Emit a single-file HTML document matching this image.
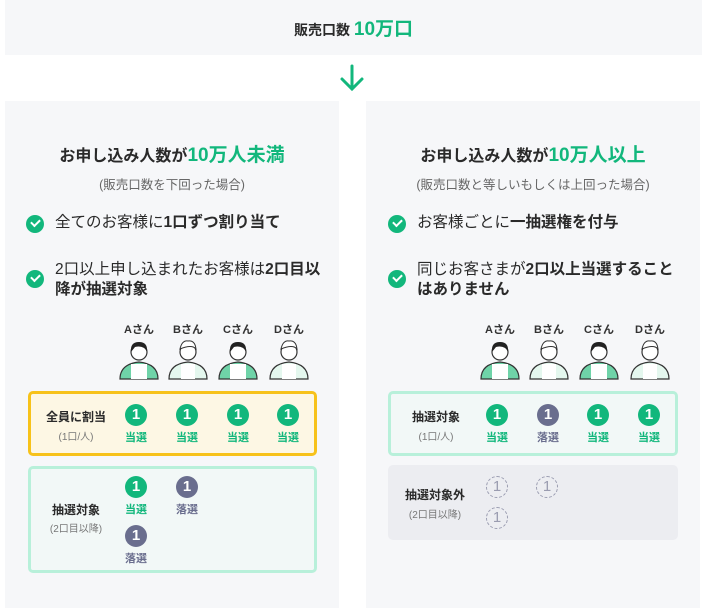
<!DOCTYPE html>
<html><head><meta charset="utf-8">
<style>
*{margin:0;padding:0;box-sizing:border-box}
body{width:707px;height:616px;background:#fff;position:relative;overflow:hidden;font-family:"Liberation Sans","Noto Sans CJK JP",sans-serif;color:#2a2a2a}
.a{position:absolute}
.g{color:#12b77c}
.panel{position:absolute;top:101px;height:507px;background:#f6f7f9}
.ttl{position:absolute;width:100%;text-align:center;font-weight:bold;font-size:16px}
.sub{position:absolute;width:100%;text-align:center;font-size:12.5px;color:#666}
.chk{position:absolute;width:18px;height:18px;border-radius:50%;background:#12b77c}
.chk:after{content:"";position:absolute;left:5px;top:4px;width:7px;height:4px;border-left:2.5px solid #fff;border-bottom:2.5px solid #fff;transform:rotate(-45deg)}
.it{position:absolute;font-size:15.5px;line-height:20px;white-space:nowrap}
.nm{position:absolute;width:50px;text-align:center;font-size:11px;font-weight:bold;color:#333}
.c{position:absolute;width:22px;height:22px;border-radius:50%;background:#12b77c;color:#fff;font-weight:bold;font-size:15px;text-align:center;line-height:22px}
.c.l{background:#6a6e8e}
.c.d{background:none;border:1.2px dashed #9a9cb0;color:#9a9cb0;font-weight:normal;line-height:20px}
.r{position:absolute;width:40px;text-align:center;font-size:11px;font-weight:bold;color:#12b77c}
.r.l{color:#6a6e8e}
.lb{position:absolute;width:96px;text-align:center;font-size:12px;font-weight:bold}
.ls{position:absolute;width:96px;text-align:center;font-size:10px;color:#777}
</style></head><body>
<div class="a" style="left:5px;top:0;width:697px;height:55px;background:#f6f7f9"></div>
<div class="a" style="left:0;top:14px;width:707px;text-align:center;font-weight:bold;font-size:14px">販売口数 <span class="g" style="font-size:19px">10万口</span></div>
<svg class="a" style="left:338px;top:64px" width="28" height="28"><path d="M14 2V25M4 15L14 25L24 15" stroke="#12b77c" stroke-width="3" fill="none" stroke-linecap="round"/></svg>

<div class="panel" style="left:5px;width:334px"></div>
<div class="panel" style="left:366px;width:334px"></div>

<div class="ttl" style="left:5px;width:334px;top:140px">お申し込み人数が<span class="g" style="font-size:19px">10万人未満</span></div>
<div class="sub" style="left:5px;width:334px;top:174px">(販売口数を下回った場合)</div>
<div class="chk" style="left:26px;top:215px"></div>
<div class="it" style="left:55px;top:213px">全てのお客様に<b>1口ずつ割り当て</b></div>
<div class="chk" style="left:26px;top:270px"></div>
<div class="it" style="left:55px;top:260px">2口以上申し込まれたお客様は<b>2口目以<br>降が抽選対象</b></div>

<div class="ttl" style="left:366px;width:334px;top:140px">お申し込み人数が<span class="g" style="font-size:19px">10万人以上</span></div>
<div class="sub" style="left:366px;width:334px;top:174px">(販売口数と等しいもしくは上回った場合)</div>
<div class="chk" style="left:388px;top:215px"></div>
<div class="it" style="left:417px;top:213px">お客様ごとに<b>一抽選権を付与</b></div>
<div class="chk" style="left:388px;top:270px"></div>
<div class="it" style="left:417px;top:260px">同じお客さまが<b>2口以上当選すること<br>はありません</b></div>

<svg width="0" height="0" style="position:absolute"><defs>
<g id="av"><path d="M-19 39Q-19 24 0 22Q19 24 19 39Z" fill="#6fd3a8" stroke="#333" stroke-width="1.2"/><rect x="-8" y="24" width="16" height="15" fill="#fff"/><circle cx="0" cy="12" r="8" fill="#fff" stroke="#333" stroke-width="1.2"/><path d="M-8 12Q-9 2 0 2Q9 2 8 12Q5 5 -4 7Z" fill="#222"/></g>
<g id="avb"><path d="M-19 39Q-19 24 0 22Q19 24 19 39Z" fill="#e4f7ee" stroke="#333" stroke-width="1.2"/><rect x="-7" y="24" width="14" height="15" fill="#fff"/><circle cx="0" cy="12" r="8" fill="#fff" stroke="#333" stroke-width="1.2"/><path d="M-8 9Q-6 0 0 1Q7 0 8 9Q4 4 -8 9Z" fill="#fff" stroke="#333" stroke-width="1"/></g>
</defs></svg>
<svg class="a" style="left:0;top:340px" width="707" height="42">
<use href="#av" x="139"/><use href="#avb" x="188"/><use href="#av" x="238"/><use href="#avb" x="289"/>
<use href="#av" x="500"/><use href="#avb" x="549"/><use href="#av" x="599"/><use href="#avb" x="650"/>
</svg>
<div class="nm" style="left:114px;top:321px">Aさん</div><div class="nm" style="left:163px;top:321px">Bさん</div><div class="nm" style="left:213px;top:321px">Cさん</div><div class="nm" style="left:264px;top:321px">Dさん</div>
<div class="nm" style="left:475px;top:321px">Aさん</div><div class="nm" style="left:524px;top:321px">Bさん</div><div class="nm" style="left:574px;top:321px">Cさん</div><div class="nm" style="left:625px;top:321px">Dさん</div>

<div class="a" style="left:28px;top:391px;width:289px;height:65px;border:3px solid #f7c21a;border-radius:5px;background:#fdf7e4"></div>
<div class="lb" style="left:28px;top:408px">全員に割当</div><div class="ls" style="left:28px;top:428px">(1口/人)</div>
<div class="c" style="left:125px;top:404px">1</div><div class="r" style="left:116px;top:429px">当選</div>
<div class="c" style="left:176px;top:404px">1</div><div class="r" style="left:167px;top:429px">当選</div>
<div class="c" style="left:227px;top:404px">1</div><div class="r" style="left:218px;top:429px">当選</div>
<div class="c" style="left:277px;top:404px">1</div><div class="r" style="left:268px;top:429px">当選</div>

<div class="a" style="left:28px;top:466px;width:289px;height:107px;border:3px solid #b8f0da;border-radius:5px;background:#f2f8f7"></div>
<div class="lb" style="left:28px;top:501px">抽選対象</div><div class="ls" style="left:28px;top:520px">(2口目以降)</div>
<div class="c" style="left:125px;top:476px">1</div><div class="r" style="left:116px;top:501px">当選</div>
<div class="c l" style="left:176px;top:476px">1</div><div class="r l" style="left:167px;top:501px">落選</div>
<div class="c l" style="left:125px;top:525px">1</div><div class="r l" style="left:116px;top:550px">落選</div>

<div class="a" style="left:388px;top:391px;width:290px;height:65px;border:3px solid #b8f0da;border-radius:5px;background:#f2f8f7"></div>
<div class="lb" style="left:388px;top:408px">抽選対象</div><div class="ls" style="left:388px;top:428px">(1口/人)</div>
<div class="c" style="left:486px;top:404px">1</div><div class="r" style="left:477px;top:429px">当選</div>
<div class="c l" style="left:537px;top:404px">1</div><div class="r l" style="left:528px;top:429px">落選</div>
<div class="c" style="left:587px;top:404px">1</div><div class="r" style="left:578px;top:429px">当選</div>
<div class="c" style="left:638px;top:404px">1</div><div class="r" style="left:629px;top:429px">当選</div>

<div class="a" style="left:388px;top:465px;width:290px;height:75px;border-radius:5px;background:#ecedf1"></div>
<div class="lb" style="left:385px;top:486px;width:100px">抽選対象外</div><div class="ls" style="left:387px;top:506px">(2口目以降)</div>
<div class="c d" style="left:486px;top:476px">1</div>
<div class="c d" style="left:536px;top:476px">1</div>
<div class="c d" style="left:486px;top:507px">1</div>
</body></html>
